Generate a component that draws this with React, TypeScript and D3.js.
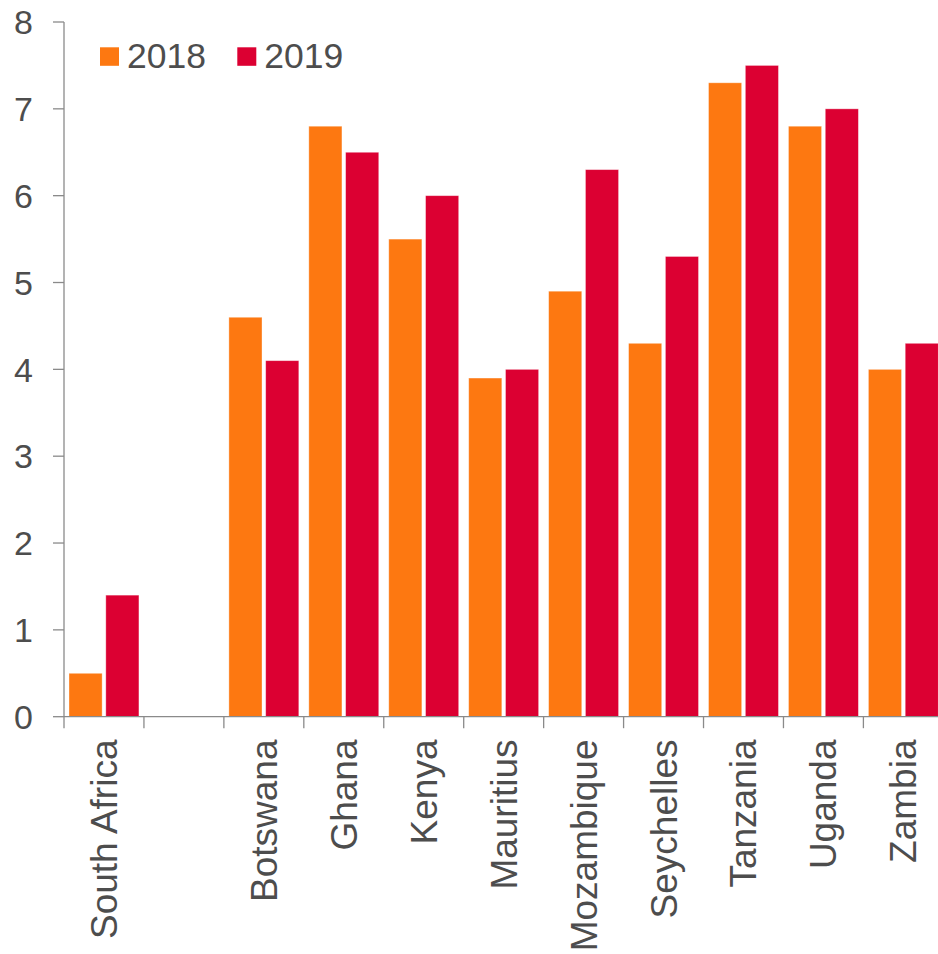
import React from "react";
import * as d3 from "d3";

// Real GDP growth, % — two years per country
const categories = [
  "South Africa",
  "",
  "Botswana",
  "Ghana",
  "Kenya",
  "Mauritius",
  "Mozambique",
  "Seychelles",
  "Tanzania",
  "Uganda",
  "Zambia",
];
const values2018 = [0.5, null, 4.6, 6.8, 5.5, 3.9, 4.9, 4.3, 7.3, 6.8, 4.0];
const values2019 = [1.4, null, 4.1, 6.5, 6.0, 4.0, 6.3, 5.3, 7.5, 7.0, 4.3];
const seriesNames = ["2018", "2019"];
const yTicks = [0, 1, 2, 3, 4, 5, 6, 7, 8];

const W = 938;
const H = 954;
const ORANGE = "#fd7811";
const RED = "#dc0032";
const TEXT = "#4d4d4d";
const AXIS = "#8a8a8a";
const FONT = "'Liberation Sans', Arial, sans-serif";

export default function App() {
  const left = 64;
  const step = 79.94;
  const x = d3
    .scaleBand<number>()
    .domain(d3.range(categories.length))
    .range([left, left + step * categories.length])
    .paddingInner(0)
    .paddingOuter(0);
  const y = d3.scaleLinear().domain([0, 8]).range([716.7, 22]);

  const inner = d3
    .scaleBand<string>()
    .domain(seriesNames)
    .range([5, x.bandwidth() - 5])
    .paddingInner(0.1);

  const series = [
    { name: "2018", color: ORANGE, values: values2018 },
    { name: "2019", color: RED, values: values2019 },
  ];

  const y0 = y(0);
  const boundaries = d3.range(categories.length + 1).map((i) => left + i * step);

  return (
    <svg
      width={W}
      height={H}
      style={{ position: "absolute", left: 0, top: 0, background: "#fff" }}
      fontFamily={FONT}
    >
      {/* bars */}
      {series.map((s) => (
        <g key={s.name}>
          {s.values.map((v, i) =>
            v == null ? null : (
              <rect
                key={i}
                x={(x(i) as number) + (inner(s.name) as number)}
                y={y(v)}
                width={inner.bandwidth()}
                height={y0 - y(v)}
                fill={s.color}
                stroke="#ffffff"
                strokeOpacity={0.45}
                strokeWidth={0.8}
              />
            )
          )}
        </g>
      ))}

      {/* y axis */}
      <line x1={left} x2={left} y1={y(8)} y2={y0} stroke={AXIS} strokeWidth={1.3} />
      {yTicks.map((t) => (
        <g key={t}>
          <line x1={left - 11} x2={left} y1={y(t)} y2={y(t)} stroke={AXIS} strokeWidth={1.3} />
          <text
            x={33}
            y={y(t)}
            dy="0.36em"
            textAnchor="end"
            fontSize={34}
            fill={TEXT}
          >
            {t}
          </text>
        </g>
      ))}

      {/* x axis */}
      <line
        x1={left}
        x2={boundaries[boundaries.length - 1]}
        y1={y0}
        y2={y0}
        stroke={AXIS}
        strokeWidth={1.3}
      />
      {boundaries.map((bx, i) => (
        <line key={i} x1={bx} x2={bx} y1={y0} y2={y0 + 11.5} stroke={AXIS} strokeWidth={1.3} />
      ))}
      {categories.map((c, i) =>
        c ? (
          <text
            key={c}
            transform={`translate(${(x(i) as number) + x.bandwidth() / 2},739.5) rotate(-90)`}
            dy="0.35em"
            textAnchor="end"
            fontSize={37}
            fill={TEXT}
          >
            {c}
          </text>
        ) : null
      )}

      {/* legend */}
      {series.map((s, i) => {
        const lx = i === 0 ? 100 : 237.3;
        return (
          <g key={s.name}>
            <rect x={lx} y={47.3} width={19} height={18.5} fill={s.color} />
            <text x={lx + 27} y={67.5} fontSize={35.5} fill={TEXT}>
              {s.name}
            </text>
          </g>
        );
      })}
    </svg>
  );
}
